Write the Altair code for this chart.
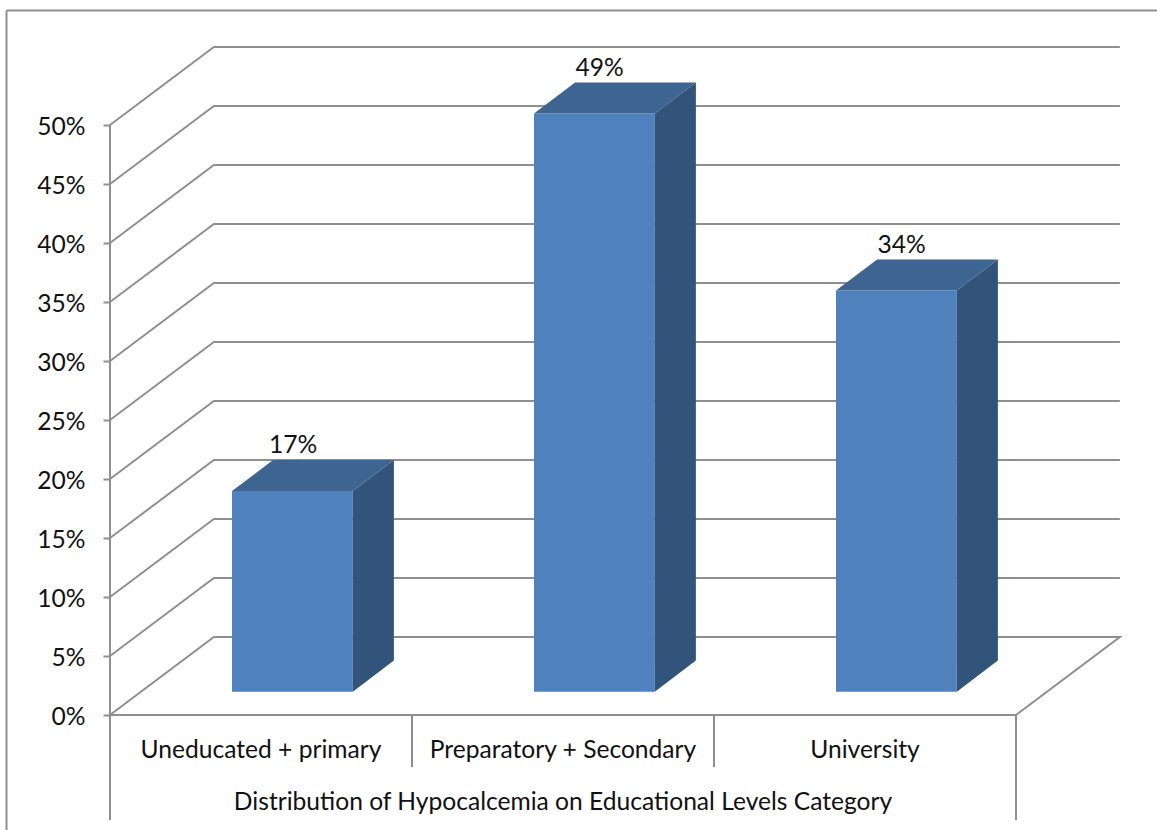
import altair as alt
import pandas as pd

# Chart data
categories = ["Uneducated + primary", "Preparatory + Secondary", "University"]
shares = [17, 49, 34]
share_labels = ["17%", "49%", "34%"]
levels = [0, 5, 10, 15, 20, 25, 30, 35, 40, 45, 50]
group_title = "Distribution of Hypocalcemia on Educational Levels Category"

# Oblique projection, in category units (x) and percentage points (y)
WALL_DX, WALL_DY = 0.344, 6.61
BAR_LEFT, BAR_WIDTH = 0.404, 0.40
BAR_BASE = 1.98
BAR_DX, BAR_DY = 0.136, 2.63
X_DOMAIN = [-0.3642, 3.4669]
Y_DOMAIN = [-9.746, 60.593]
CAT_TICK_END, GROUP_TICK_END = -4.41, -8.9
CAT_LABEL_Y, GROUP_LABEL_Y = -3.08, -7.5
LABEL_GAP = 3.8
LABEL_NUDGE = [0.002, 0.017, 0.017]
BORDER_X, BORDER_Y = -0.3427, 59.7

GREY = "#8f8f8f"
FRONT, SIDE, TOP = "#4f81bd", "#32547b", "#3e6592"
FONT = "Lato"
FS = 24.6

x_scale = alt.Scale(domain=X_DOMAIN, nice=False, zero=False)
y_scale = alt.Scale(domain=Y_DOMAIN, nice=False, zero=False)

# Value axis, drawn inside the full-size scale range
y_axis = alt.Axis(
    values=levels,
    offset=-110,
    domain=False,
    grid=False,
    title=None,
    tickSize=7,
    tickWidth=2,
    tickColor=GREY,
    labelFont=FONT,
    labelFontSize=FS,
    labelColor="#111111",
    labelPadding=18,
    labelOffset=2.5,
    labelExpr="datum.value + '%'",
)


def X(field):
    return alt.X(field, type="quantitative", scale=x_scale, axis=None)


def Y(field):
    return alt.Y(field, type="quantitative", scale=y_scale, axis=y_axis, stack=None)


# Wall and floor outlines
wall_rows = []
for lv in levels:
    wall_rows.append({"lv": lv, "o": 0, "x": 0, "y": lv})
    wall_rows.append({"lv": lv, "o": 1, "x": WALL_DX, "y": lv + WALL_DY})
    wall_rows.append({"lv": lv, "o": 2, "x": 3 + WALL_DX, "y": lv + WALL_DY})
wall_rows.append({"lv": 0, "o": 3, "x": 3, "y": 0})
walls = (
    alt.Chart(pd.DataFrame(wall_rows))
    .mark_line(color=GREY, strokeWidth=2, strokeJoin="miter")
    .encode(x=X("x"), y=Y("y"), detail="lv:N", order="o:Q")
)

# Rules on the axes: the front edge, the value axis and the category separators
rule_rows = [
    {"x": 0, "x2": 0, "y": 50, "y2": GROUP_TICK_END},
    {"x": 3, "x2": 3, "y": 0, "y2": GROUP_TICK_END},
    {"x": 1, "x2": 1, "y": 0, "y2": CAT_TICK_END},
    {"x": 2, "x2": 2, "y": 0, "y2": CAT_TICK_END},
    {"x": 0, "x2": 3, "y": 0, "y2": 0},
    {"x": X_DOMAIN[0] + 0.0215, "x2": X_DOMAIN[1], "y": BORDER_Y, "y2": BORDER_Y},
    {"x": BORDER_X, "x2": BORDER_X, "y": BORDER_Y, "y2": Y_DOMAIN[0]},
]
rules = (
    alt.Chart(pd.DataFrame(rule_rows))
    .mark_rule(color=GREY, strokeWidth=2)
    .encode(x=X("x"), x2="x2:Q", y=Y("y"), y2="y2:Q")
)

# Bar faces
front_rows, side_rows, top_rows, label_rows = [], [], [], []
for i, (name, val, txt) in enumerate(zip(categories, shares, share_labels)):
    left = i + BAR_LEFT
    right = left + BAR_WIDTH
    high = BAR_BASE + val
    front_rows.append({"c": name, "x": left, "x2": right, "y": BAR_BASE, "y2": high})
    side_rows.append({"c": name, "x": right, "y": BAR_BASE, "y2": high})
    side_rows.append({"c": name, "x": right + BAR_DX, "y": BAR_BASE + BAR_DY, "y2": high + BAR_DY})
    top_rows.append({"c": name, "y": high, "x": left, "x2": right})
    top_rows.append({"c": name, "y": high + BAR_DY, "x": left + BAR_DX, "x2": right + BAR_DX})
    label_rows.append({"x": left + BAR_WIDTH / 2 + LABEL_NUDGE[i], "y": high + LABEL_GAP, "t": txt})

fronts = (
    alt.Chart(pd.DataFrame(front_rows))
    .mark_rect(color=FRONT)
    .encode(x=X("x"), x2="x2:Q", y=Y("y"), y2="y2:Q")
)
sides = (
    alt.Chart(pd.DataFrame(side_rows))
    .mark_area(color=SIDE)
    .encode(x=X("x"), y=Y("y"), y2="y2:Q", detail="c:N")
)
tops = (
    alt.Chart(pd.DataFrame(top_rows))
    .mark_area(color=TOP, orient="horizontal")
    .encode(y=Y("y"), x=X("x"), x2="x2:Q", detail="c:N")
)

# Text
text_rows = label_rows + [
    {"x": i + 0.5, "y": CAT_LABEL_Y, "t": name} for i, name in enumerate(categories)
] + [{"x": 1.5, "y": GROUP_LABEL_Y, "t": group_title}]
texts = (
    alt.Chart(pd.DataFrame(text_rows))
    .mark_text(font=FONT, fontSize=FS, color="#111111", align="center", baseline="middle")
    .encode(x=X("x"), y=Y("y"), text="t:N")
)

chart = (
    alt.layer(walls, rules, fronts, sides, tops, texts)
    .properties(
        width=1157,
        height=830,
        padding=0,
        autosize=alt.AutoSizeParams(type="none"),
        background="white",
    )
    .configure_view(stroke=None)
)

chart.save("out.html", embed_options={"renderer": "svg", "actions": False})
